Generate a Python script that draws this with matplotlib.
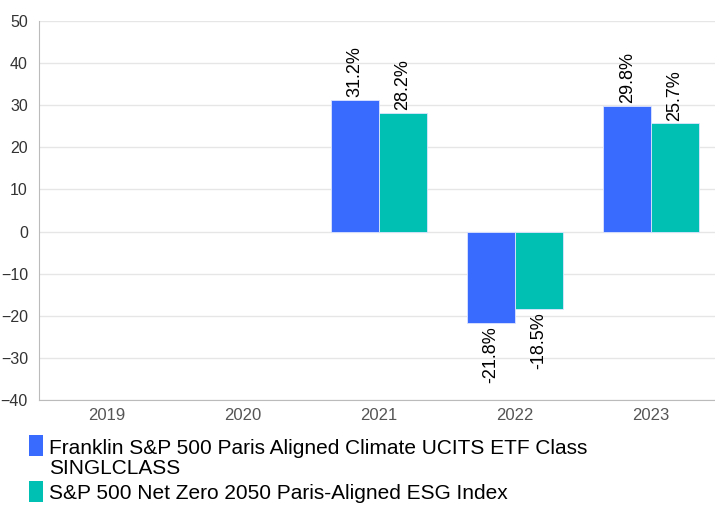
import matplotlib
matplotlib.use("Agg")
import matplotlib.pyplot as plt
from matplotlib.patches import Rectangle
import numpy as np

plt.rcParams['font.family'] = ['Liberation Sans', 'DejaVu Sans']

years = ["2019", "2020", "2021", "2022", "2023"]
fund = [np.nan, np.nan, 31.2, -21.8, 29.8]
index = [np.nan, np.nan, 28.2, -18.5, 25.7]
series_lines = [["Franklin S&P 500 Paris Aligned Climate UCITS ETF Class", "SINGLCLASS"],
                ["S&P 500 Net Zero 2050 Paris-Aligned ESG Index"]]
colors = ["#3a6bff", "#00bfb3"]
yticks = [-40, -30, -20, -10, 0, 10, 20, 30, 40, 50]

W, H = 715, 505
fig = plt.figure(figsize=(W/100, H/100), dpi=100)
ax = fig.add_axes([39/W, 1-400/H, 680/W, 379/H])

x = np.arange(len(years))
bw = 0.35
for vals, off, c in [(fund, -bw/2, colors[0]), (index, bw/2, colors[1])]:
    v = np.array(vals, dtype=float)
    m = ~np.isnan(v)
    ax.bar(x[m] + off, v[m], width=bw, color=c, edgecolor="#dde4ff", linewidth=0.6, zorder=3)
    for xi, vi in zip(x[m] + off, v[m]):
        if vi >= 0:
            ax.annotate(f"{vi:.1f}%", (xi, vi), xytext=(0, 2), textcoords="offset points",
                        rotation=90, ha="center", va="bottom", fontsize=13, color="black")
        else:
            ax.annotate(f"{vi:.1f}%", (xi, vi), xytext=(0, -2), textcoords="offset points",
                        rotation=90, ha="center", va="top", fontsize=13, color="black")

ax.set_xlim(-0.5, len(years) - 0.5)
ax.set_ylim(-40, 50)
ax.set_yticks(yticks)
ax.set_xticks(x)
ax.set_xticklabels(years)
ax.grid(axis="y", color="#e6e6e6", linewidth=1, zorder=0)
for s in ["top", "right"]:
    ax.spines[s].set_visible(False)
ax.spines["left"].set_color("#bbbbbb")
ax.spines["bottom"].set_color("#bbbbbb")
ax.tick_params(axis="both", length=0, labelsize=11.5, colors="#333333")
ax.tick_params(axis="y", pad=8)
ax.tick_params(axis="x", pad=6, labelsize=12, colors="#555555")

# legend
fig.add_artist(Rectangle((29/W, 1-456/H), 14/W, 21/H, transform=fig.transFigure,
                         facecolor=colors[0], edgecolor="none"))
fig.add_artist(Rectangle((29/W, 1-502/H), 14/W, 21/H, transform=fig.transFigure,
                         facecolor=colors[1], edgecolor="none"))
baselines = [[454, 474], [499]]
for lines, bls in zip(series_lines, baselines):
    for t, b in zip(lines, bls):
        fig.text(49/W, 1-b/H, t, ha="left", va="baseline", fontsize=15, color="black")

fig.savefig("out.png", dpi=100)
